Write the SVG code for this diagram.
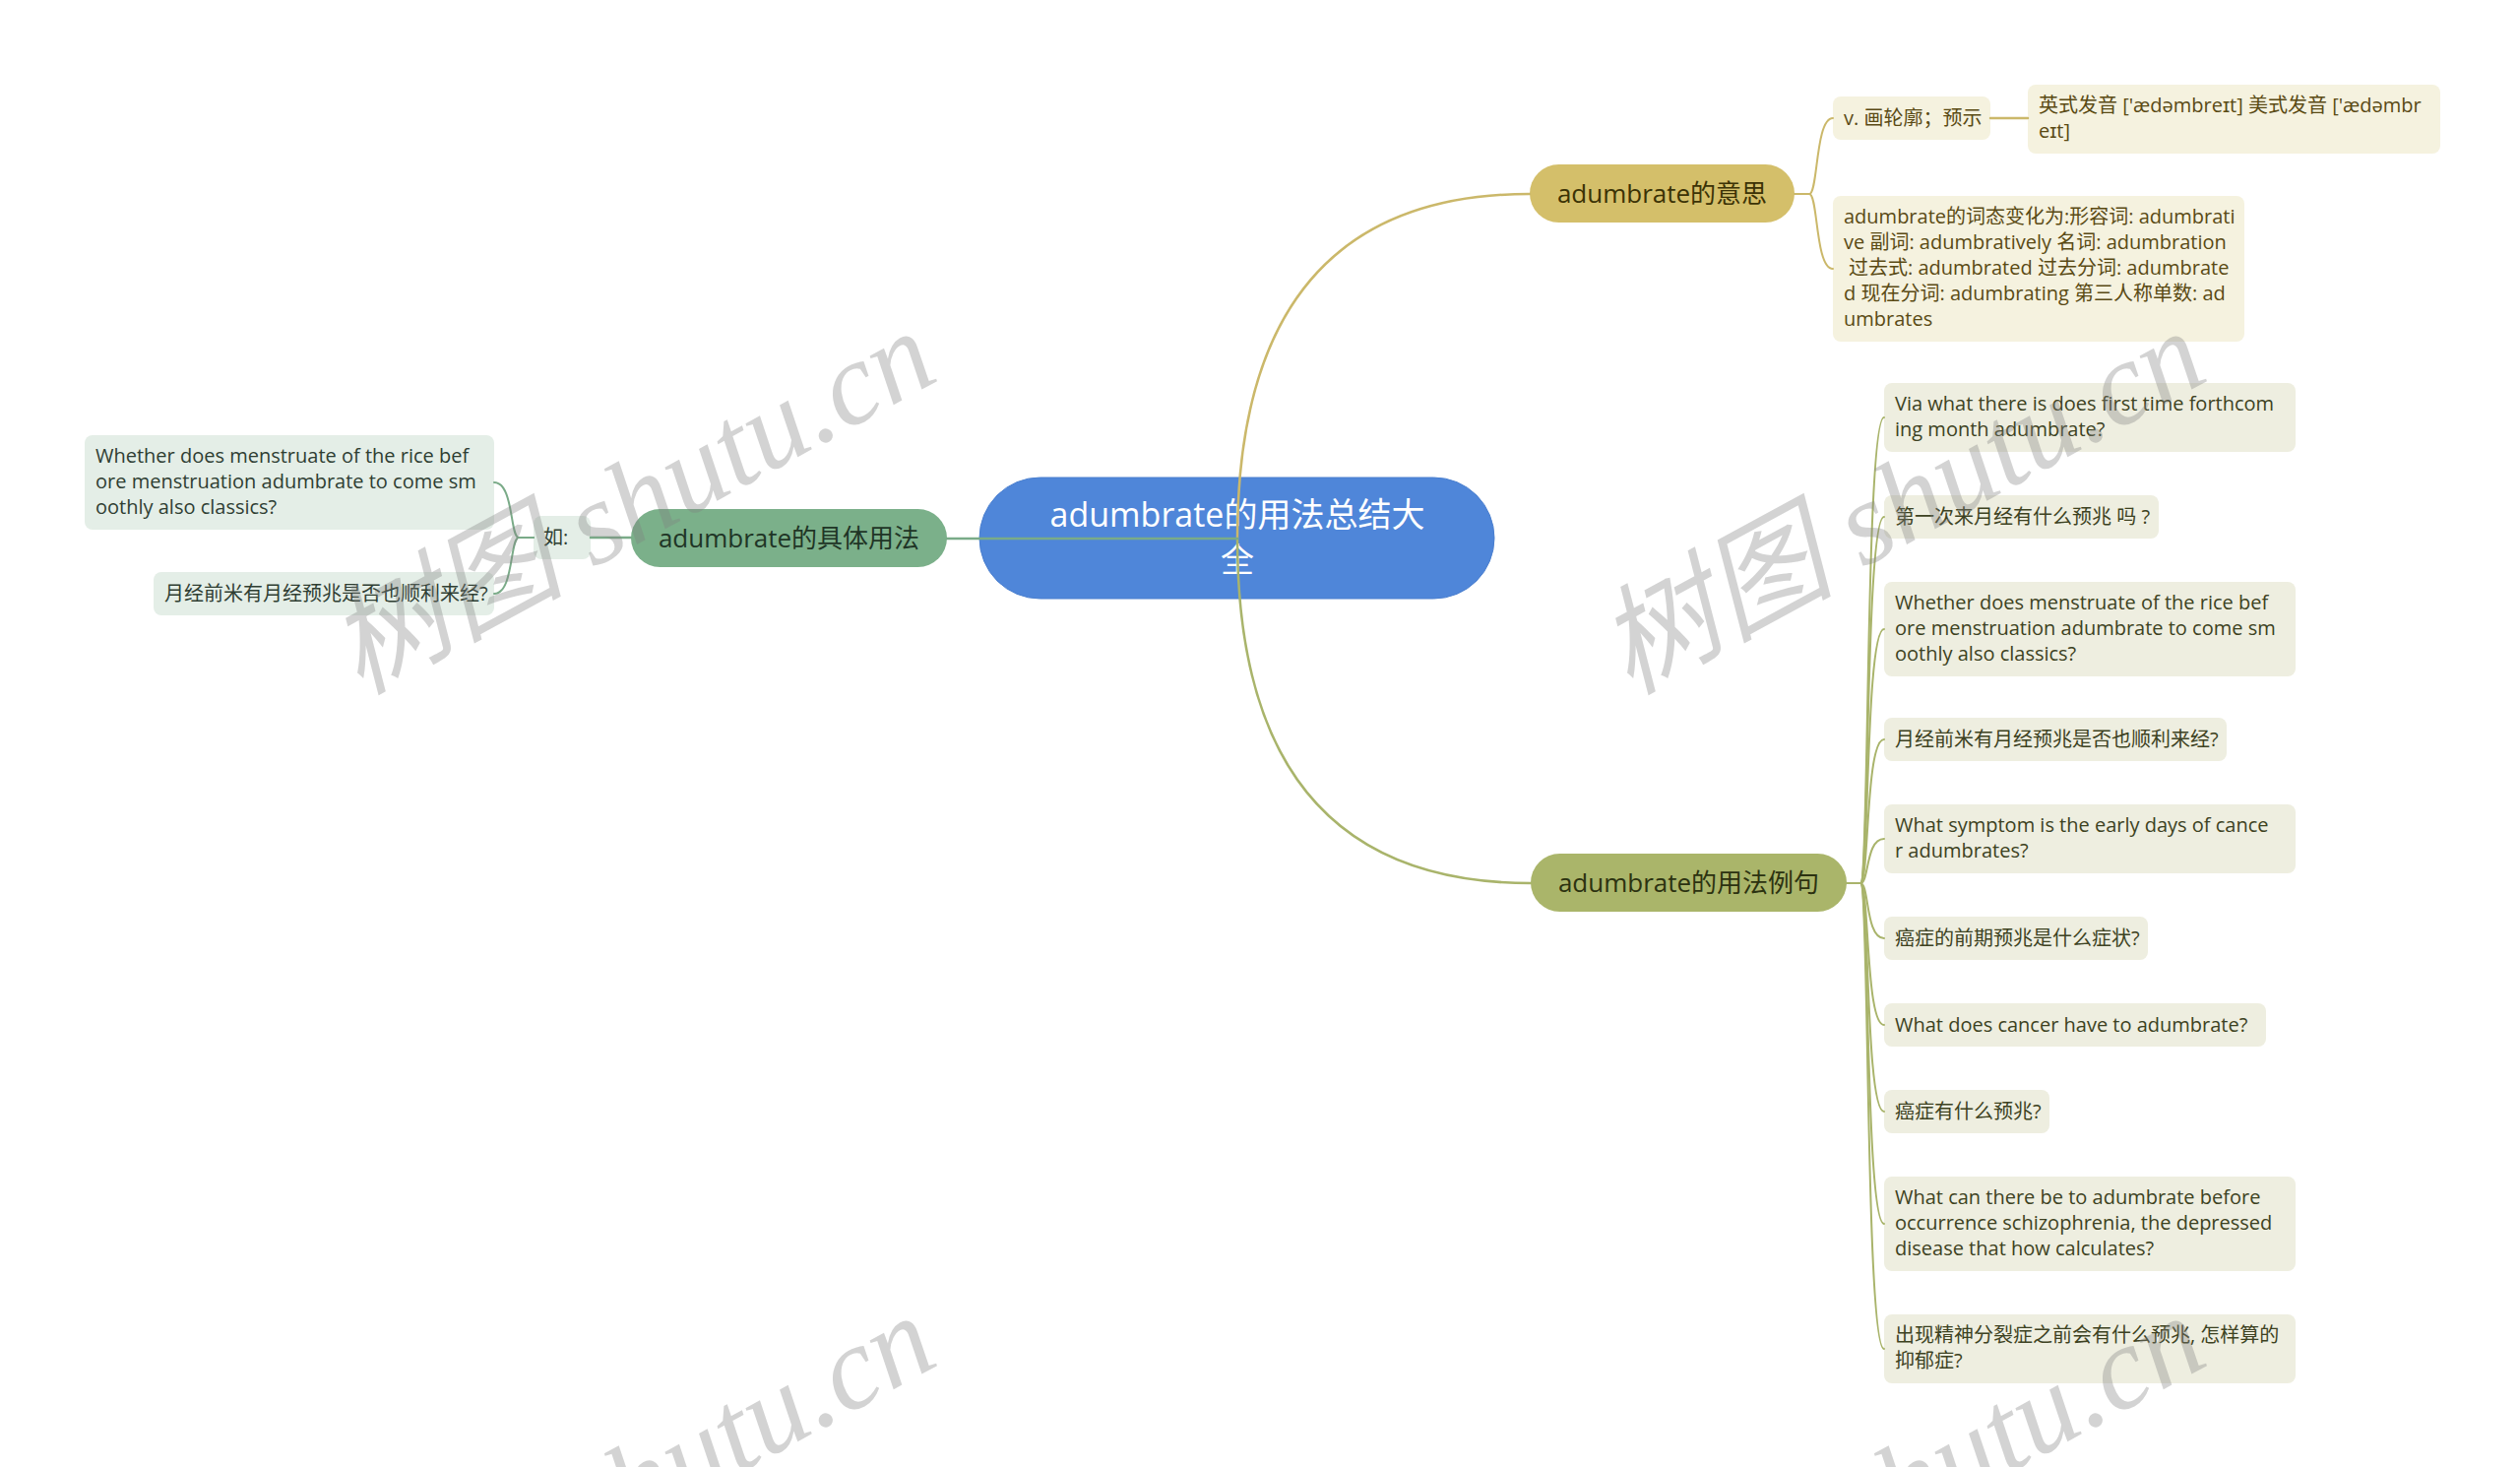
<svg xmlns="http://www.w3.org/2000/svg" width="2560" height="1490" viewBox="0 0 2560 1490">
<style>
.t{font-family:"Open Sans","Noto Sans CJK SC",sans-serif;font-size:20px}
.n1{font-family:"Open Sans","Noto Sans CJK SC",sans-serif;font-size:26px;text-anchor:middle}
.rt{font-family:"Open Sans","Noto Sans CJK SC",sans-serif;font-size:34px;text-anchor:middle;fill:#ffffff}
.yb{fill:#f5f2df}.yt{fill:#5a4a14}
.gb{fill:#e4eee7}.gt{fill:#2f3e33}
.ob{fill:#eeeee0}.ot{fill:#3d4222}
.ln{fill:none;stroke-linecap:round}
.wm{font-family:"Liberation Serif","Noto Sans CJK SC",serif;font-style:italic;font-size:120px;fill:#808080;opacity:.34}
</style>
<rect width="2560" height="1490" fill="#ffffff"/>

<g id="root">
<rect x="995" y="485" width="523" height="123" rx="61.5" fill="#4f86d9" stroke="#4a7fcf" stroke-width="1"/>
<text class="rt" x="1257" y="535">adumbrate的用法总结大</text>
<text class="rt" x="1257" y="581">全</text>
</g>

<g id="meaning">
<rect x="1554" y="167" width="269" height="59" rx="29.5" fill="#d4bf6a"/>
<text class="n1" x="1688.5" y="206" fill="#3b3205">adumbrate的意思</text>
</g>
<g id="meaning-verb">
<rect class="yb" x="1862" y="98" width="160" height="44" rx="8"/>
<text class="t yt" x="1873" y="127">v. 画轮廓；预示</text>
</g>
<g id="meaning-pron">
<rect class="yb" x="2060" y="86" width="419" height="70" rx="8"/>
<text class="t yt" x="2071" y="114">英式发音 ['ædəmbreɪt] 美式发音 ['ædəmbr</text>
<text class="t yt" x="2071" y="140">eɪt]</text>
</g>
<g id="meaning-forms">
<rect class="yb" x="1862" y="199" width="418" height="148" rx="8"/>
<text class="t yt" x="1873" y="227">adumbrate的词态变化为:形容词: adumbrati</text>
<text class="t yt" x="1873" y="253">ve 副词: adumbratively 名词: adumbration</text>
<text class="t yt" x="1878" y="279">过去式: adumbrated 过去分词: adumbrate</text>
<text class="t yt" x="1873" y="305">d 现在分词: adumbrating 第三人称单数: ad</text>
<text class="t yt" x="1873" y="331">umbrates</text>
</g>

<g id="usage">
<rect x="641" y="517" width="321" height="59" rx="29.5" fill="#7bb08a"/>
<text class="n1" x="801.5" y="556" fill="#1f3526">adumbrate的具体用法</text>
</g>
<g id="usage-ru">
<rect class="gb" x="542" y="524" width="58" height="44" rx="8"/>
<text class="t gt" x="552" y="553">如:</text>
</g>
<g id="usage-en">
<rect class="gb" x="86" y="442" width="416" height="96" rx="8"/>
<text class="t gt" x="97" y="470">Whether does menstruate of the rice bef</text>
<text class="t gt" x="97" y="496">ore menstruation adumbrate to come sm</text>
<text class="t gt" x="97" y="522">oothly also classics?</text>
</g>
<g id="usage-zh">
<rect class="gb" x="156" y="581" width="346" height="44" rx="8"/>
<text class="t gt" x="167" y="610">月经前米有月经预兆是否也顺利来经?</text>
</g>

<g id="examples">
<rect x="1555" y="867" width="321" height="59" rx="29.5" fill="#aab56a"/>
<text class="n1" x="1715.5" y="906" fill="#2c3210">adumbrate的用法例句</text>
</g>
<g id="ex1">
<rect class="ob" x="1914" y="389" width="418" height="70" rx="8"/>
<text class="t ot" x="1925" y="417">Via what there is does first time forthcom</text>
<text class="t ot" x="1925" y="443">ing month adumbrate?</text>
</g>
<g id="ex2">
<rect class="ob" x="1914" y="503" width="279" height="44" rx="8"/>
<text class="t ot" x="1925" y="532">第一次来月经有什么预兆 吗 ?</text>
</g>
<g id="ex3">
<rect class="ob" x="1914" y="591" width="418" height="96" rx="8"/>
<text class="t ot" x="1925" y="619">Whether does menstruate of the rice bef</text>
<text class="t ot" x="1925" y="645">ore menstruation adumbrate to come sm</text>
<text class="t ot" x="1925" y="671">oothly also classics?</text>
</g>
<g id="ex4">
<rect class="ob" x="1914" y="729" width="348" height="44" rx="8"/>
<text class="t ot" x="1925" y="758">月经前米有月经预兆是否也顺利来经?</text>
</g>
<g id="ex5">
<rect class="ob" x="1914" y="817" width="418" height="70" rx="8"/>
<text class="t ot" x="1925" y="845">What symptom is the early days of cance</text>
<text class="t ot" x="1925" y="871">r adumbrates?</text>
</g>
<g id="ex6">
<rect class="ob" x="1914" y="931" width="268" height="44" rx="8"/>
<text class="t ot" x="1925" y="960">癌症的前期预兆是什么症状?</text>
</g>
<g id="ex7">
<rect class="ob" x="1914" y="1019" width="388" height="44" rx="8"/>
<text class="t ot" x="1925" y="1048">What does cancer have to adumbrate?</text>
</g>
<g id="ex8">
<rect class="ob" x="1914" y="1107" width="168" height="44" rx="8"/>
<text class="t ot" x="1925" y="1136">癌症有什么预兆?</text>
</g>
<g id="ex9">
<rect class="ob" x="1914" y="1195" width="418" height="96" rx="8"/>
<text class="t ot" x="1925" y="1223">What can there be to adumbrate before</text>
<text class="t ot" x="1925" y="1249">occurrence schizophrenia, the depressed</text>
<text class="t ot" x="1925" y="1275">disease that how calculates?</text>
</g>
<g id="ex10">
<rect class="ob" x="1914" y="1335" width="418" height="70" rx="8"/>
<text class="t ot" x="1925" y="1363">出现精神分裂症之前会有什么预兆, 怎样算的</text>
<text class="t ot" x="1925" y="1389">抑郁症?</text>
</g>

<g id="connectors">
<path class="ln" stroke="#cbb86a" stroke-width="2.5" d="M1257,547 Q1257,197 1554,197"/>
<path class="ln" stroke="#a9b46b" stroke-width="2.5" d="M1257,547 Q1257,897 1555,897"/>
<path class="ln" stroke="#7aab88" stroke-width="2.5" d="M1257,547 H962"/>
<path class="ln" stroke="#cbb86a" stroke-width="2" d="M1823,197 H1838 C1847,197 1844,120 1862,120"/>
<path class="ln" stroke="#cbb86a" stroke-width="2" d="M1823,197 H1838 C1847,197 1844,273 1862,273"/>
<path class="ln" stroke="#cbb86a" stroke-width="2.5" d="M2022,120 H2060"/>
<path class="ln" stroke="#7aab88" stroke-width="2.5" d="M641,546 H600"/>
<path class="ln" stroke="#7aab88" stroke-width="2" d="M542,546 H527 C518,546 522,490 502,490"/>
<path class="ln" stroke="#7aab88" stroke-width="2" d="M542,546 H527 C518,546 522,603 502,603"/>
<g stroke="#a9b46b" stroke-width="2" class="ln">
<path class="ln" d="M1876,897 H1890 C1899,897 1895,424 1914,424"/>
<path class="ln" d="M1876,897 H1890 C1899,897 1895,525 1914,525"/>
<path class="ln" d="M1876,897 H1890 C1899,897 1895,639 1914,639"/>
<path class="ln" d="M1876,897 H1890 C1899,897 1895,751 1914,751"/>
<path class="ln" d="M1876,897 H1890 C1899,897 1895,852 1914,852"/>
<path class="ln" d="M1876,897 H1890 C1899,897 1895,953 1914,953"/>
<path class="ln" d="M1876,897 H1890 C1899,897 1895,1041 1914,1041"/>
<path class="ln" d="M1876,897 H1890 C1899,897 1895,1129 1914,1129"/>
<path class="ln" d="M1876,897 H1890 C1899,897 1895,1243 1914,1243"/>
<path class="ln" d="M1876,897 H1890 C1899,897 1895,1370 1914,1370"/>
</g>
</g>

<g id="watermark">
<text class="wm" x="365" y="706" transform="rotate(-28.5 365 706)">树图 shutu.cn</text>
<text class="wm" x="1655" y="706" transform="rotate(-28.5 1655 706)">树图 shutu.cn</text>
<text class="wm" x="365" y="1706" transform="rotate(-28.5 365 1706)">树图 shutu.cn</text>
<text class="wm" x="1655" y="1706" transform="rotate(-28.5 1655 1706)">树图 shutu.cn</text>
</g>
</svg>
